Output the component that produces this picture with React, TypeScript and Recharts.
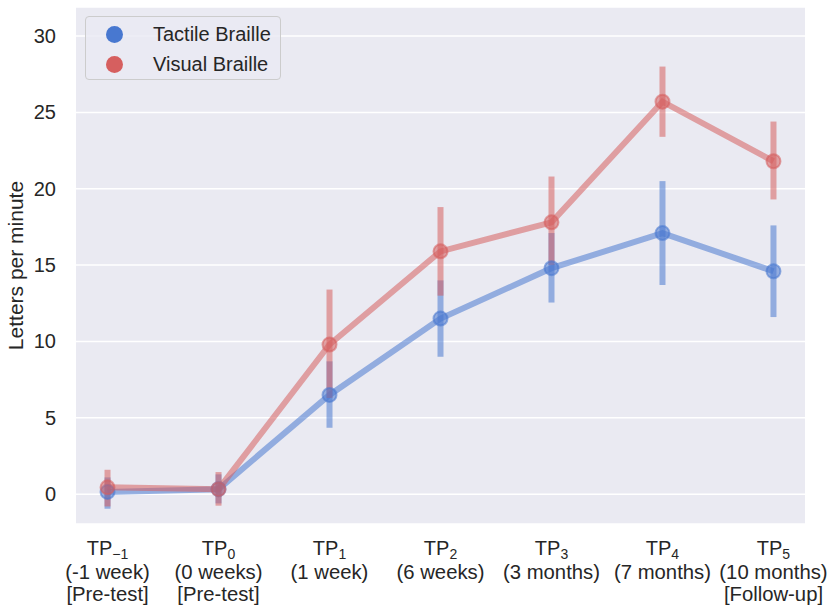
import React from 'react'
import { ComposedChart, Line, XAxis, YAxis, CartesianGrid, ErrorBar, Legend } from 'recharts'

const subscripts = ['−1', '0', '1', '2', '3', '4', '5']
const periods = ['(-1 week)', '(0 weeks)', '(1 week)', '(6 weeks)', '(3 months)', '(7 months)', '(10 months)']
const notes = ['[Pre-test]', '[Pre-test]', '', '', '', '', '[Follow-up]']

const tactileMean = [0.15, 0.33, 6.5, 11.5, 14.8, 17.1, 14.6]
const tactileLow = [-0.95, -0.6, 4.35, 9.0, 12.55, 13.7, 11.6]
const tactileHigh = [1.1, 1.3, 8.7, 14.0, 17.1, 20.5, 17.6]

const visualMean = [0.45, 0.33, 9.8, 15.9, 17.8, 25.7, 21.8]
const visualLow = [-0.8, -0.75, 6.3, 13.0, 15.0, 23.4, 19.3]
const visualHigh = [1.6, 1.45, 13.4, 18.8, 20.8, 28.0, 24.4]

const yTicks = [0, 5, 10, 15, 20, 25, 30]

const BLUE = '#4878D0'
const RED = '#D65F5F'
const TEXT = '#262626'
const FONT = '"Liberation Sans", Arial, Helvetica, sans-serif'

const data = subscripts.map((_, i) => ({
  x: i,
  tactile: tactileMean[i],
  tactileErr: [tactileMean[i] - tactileLow[i], tactileHigh[i] - tactileMean[i]],
  visual: visualMean[i],
  visualErr: [visualMean[i] - visualLow[i], visualHigh[i] - visualMean[i]],
}))

function XTick(props: any) {
  const { x, y, payload } = props
  const i = payload.value
  return (
    <g>
      <text x={x} y={y + 31} textAnchor="middle" fontSize={20} fill={TEXT} fontFamily={FONT}>
        TP
        <tspan fontSize={14} dy={4}>{subscripts[i]}</tspan>
      </text>
      <text x={x} y={y + 55} textAnchor="middle" fontSize={20.3} fill={TEXT} fontFamily={FONT}>
        {periods[i]}
      </text>
      {notes[i] && (
        <text x={x} y={y + 77} textAnchor="middle" fontSize={20.3} fill={TEXT} fontFamily={FONT}>
          {notes[i]}
        </text>
      )}
    </g>
  )
}

function YTick(props: any) {
  const { x, y, payload } = props
  return (
    <text x={x - 1} y={y + 7} textAnchor="end" fontSize={20} fill={TEXT} fontFamily={FONT}>
      {payload.value}
    </text>
  )
}

function LegendBox() {
  const items = [
    { name: 'Tactile Braille', color: BLUE },
    { name: 'Visual Braille', color: RED },
  ]
  return (
    <div
      style={{
        width: 194,
        height: 62,
        border: '1px solid #CCCCCC',
        borderRadius: 4,
        background: 'rgba(234,234,242,0.8)',
        fontFamily: FONT,
        fontSize: 20,
        color: TEXT,
        boxSizing: 'content-box',
      }}
    >
      {items.map((it) => (
        <div key={it.name} style={{ display: 'flex', alignItems: 'center', height: 30, marginTop: it.color === BLUE ? 2 : 0 }}>
          <span
            style={{
              display: 'inline-block',
              width: 17,
              height: 17,
              borderRadius: '50%',
              background: it.color,
              marginLeft: 20,
              marginRight: 30,
            }}
          />
          <span>{it.name}</span>
        </div>
      ))}
    </div>
  )
}

function YLabel(props: any) {
  const { viewBox } = props
  const cy = viewBox.y + viewBox.height / 2
  return (
    <text
      x={23}
      y={cy}
      transform={`rotate(-90, 23, ${cy})`}
      textAnchor="middle"
      fontSize={21}
      fill={TEXT}
      fontFamily={FONT}
    >
      Letters per minute
    </text>
  )
}

export default function App() {
  return (
    <div style={{ position: 'absolute', left: 0, top: 0, width: 834, height: 615, background: '#fff' }}>
      <ComposedChart width={834} height={615} data={data} margin={{ top: 7, right: 29, left: 0, bottom: 0 }}>
        <CartesianGrid fill="#EAEAF2" stroke="#FFFFFF" strokeWidth={1.5} vertical={false} />
        <XAxis
          type="number"
          dataKey="x"
          domain={[-0.284, 6.284]}
          ticks={[0, 1, 2, 3, 4, 5, 6]}
          height={91}
          axisLine={false}
          tickLine={false}
          tickSize={0}
          tickMargin={0}
          tick={<XTick />}
          interval={0}
        />
        <YAxis
          type="number"
          domain={[-1.95, 31.9]}
          ticks={yTicks}
          width={76}
          axisLine={false}
          tickLine={false}
          tickSize={0}
          tickMargin={19}
          tick={<YTick />}
          allowDataOverflow
          label={<YLabel />}
        />
        <Legend
          layout="horizontal"
          verticalAlign="middle"
          align="center"
          wrapperStyle={{ position: 'absolute', left: 85, top: 16, width: 196, height: 64 }}
          content={() => <LegendBox />}
        />
        <Line
          dataKey="tactile"
          name="Tactile Braille"
          stroke={BLUE}
          strokeOpacity={0.55}
          strokeWidth={6}
          dot={{ r: 7, fill: BLUE, fillOpacity: 0.55, stroke: BLUE, strokeOpacity: 0.55, strokeWidth: 2 }}
          activeDot={false}
          isAnimationActive={false}
        >
          <ErrorBar dataKey="tactileErr" direction="y" width={0} stroke="rgba(72,120,208,0.55)" strokeWidth={6} />
        </Line>
        <Line
          dataKey="visual"
          name="Visual Braille"
          stroke={RED}
          strokeOpacity={0.55}
          strokeWidth={6}
          dot={{ r: 7, fill: RED, fillOpacity: 0.55, stroke: RED, strokeOpacity: 0.55, strokeWidth: 2 }}
          activeDot={false}
          isAnimationActive={false}
        >
          <ErrorBar dataKey="visualErr" direction="y" width={0} stroke="rgba(214,95,95,0.55)" strokeWidth={6} />
        </Line>
      </ComposedChart>
    </div>
  )
}
